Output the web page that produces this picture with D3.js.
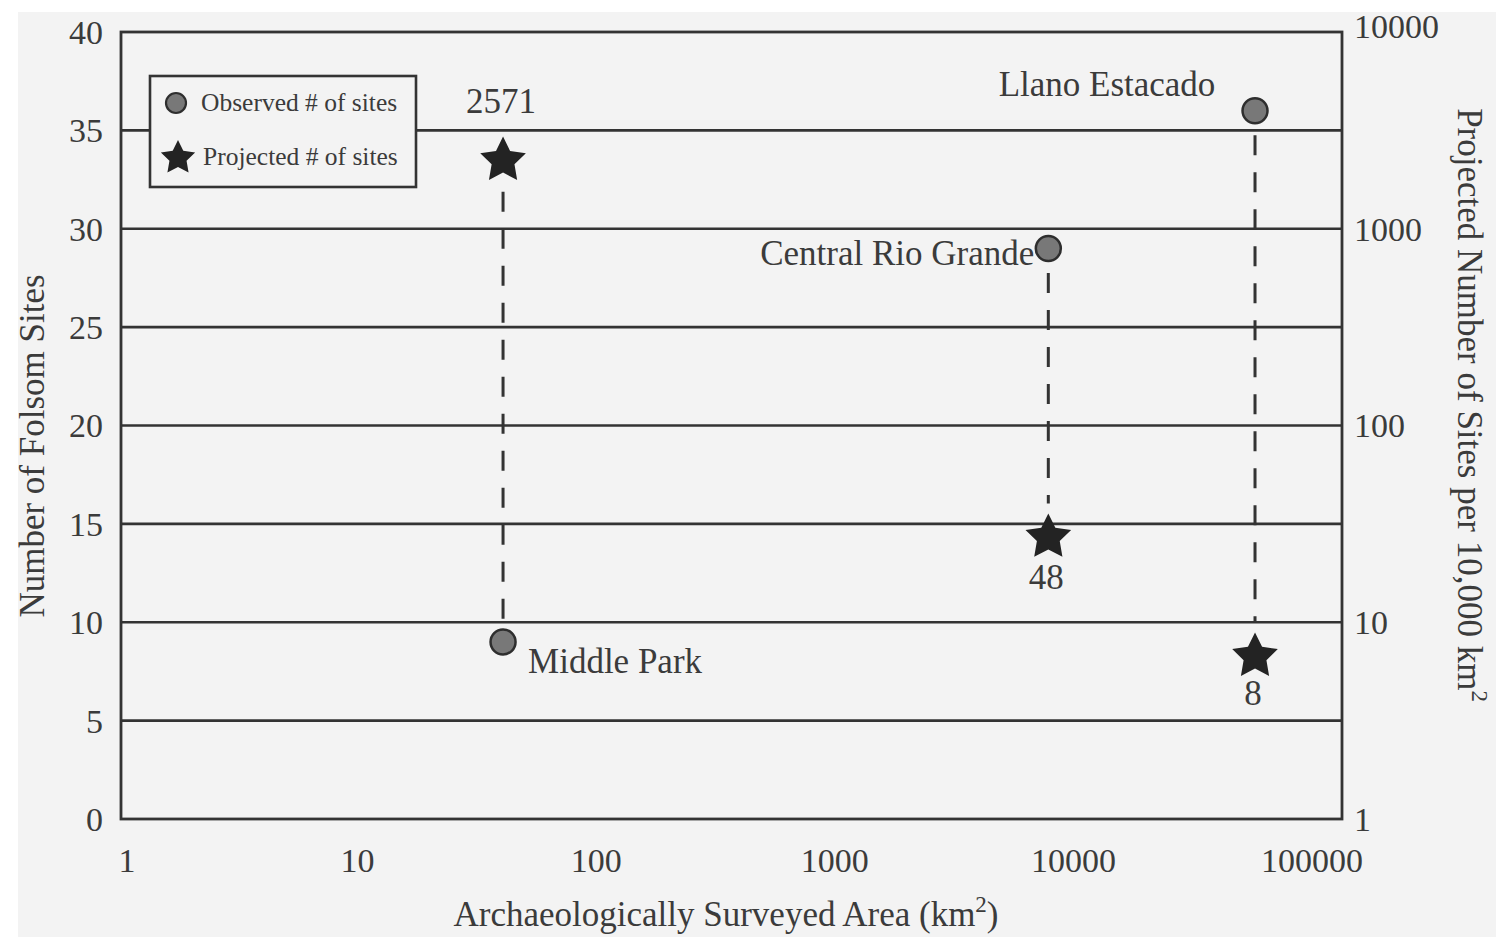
<!DOCTYPE html>
<html>
<head>
<meta charset="utf-8">
<script src="https://cdn.jsdelivr.net/npm/d3@7"></script>
<style>
    body { margin: 0; background: #fff; }
    text { font-family: "Liberation Serif", "Times New Roman", serif; fill: #3b3b3b; }
</style>
</head>
<body>
<div class="chart-container"></div>
<script>
// values
var sites = ["Middle Park", "Central Rio Grande", "Llano Estacado"];
var surveyedArea = [40.7, 7850, 57700];      // km2
var observedSites = [9, 29, 36];             // left axis
var projectedPlotted = [2220, 27, 6.7];      // right axis, where the stars sit
var projectedLabels = ["2571", "48", "8"];

var leftTicks = [0, 5, 10, 15, 20, 25, 30, 35, 40];
var rightTicks = [1, 10, 100, 1000, 10000];
var xTicks = [1, 10, 100, 1000, 10000, 100000];

draw();

function draw() {
    var drawWidth = 1502;
    var drawHeight = 949;

    var margin = {
        top: 32,
        right: 160,
        bottom: 130,
        left: 121
    };
    var width = drawWidth - margin.left - margin.right;   // 1221
    var height = drawHeight - margin.top - margin.bottom; // 787

    var ink = "#333";
    var paper = "#f3f3f3";

    var svg = d3.select('.chart-container').append("svg")
        .attr("width", drawWidth)
        .attr("height", drawHeight);

    // the scanned page
    svg.append("rect")
        .attr("x", 18).attr("y", 12)
        .attr("width", 1478).attr("height", 925)
        .attr("fill", paper);

    var y = d3.scaleLinear().domain([0, 40]).range([margin.top + height, margin.top]);
    var yR = d3.scaleLog().domain([1, 10000]).range([margin.top + height, margin.top]);
    // tick labels of the figure sit a little left of the frame corners
    var x = d3.scaleLog().domain([1, 100000]).range([119, 1312]);

    var x0 = margin.left, x1 = margin.left + width;

    // horizontal rules
    svg.append("g").selectAll("line")
        .data(leftTicks.filter(function (d) { return d > 0 && d < 40; }))
        .enter().append("line")
            .attr("x1", x0).attr("x2", x1)
            .attr("y1", function (d) { return y(d); })
            .attr("y2", function (d) { return y(d); })
            .attr("stroke", ink)
            .attr("stroke-width", 2.6);

    // frame
    svg.append("rect")
        .attr("x", x0).attr("y", margin.top)
        .attr("width", width).attr("height", height)
        .attr("fill", "none")
        .attr("stroke", ink)
        .attr("stroke-width", 2.8);

    // left ticks
    svg.append("g").selectAll("text")
        .data(leftTicks)
        .enter().append("text")
            .attr("x", 103)
            .attr("y", function (d) { return y(d); })
            .attr("dy", "0.35em")
            .attr("text-anchor", "end")
            .attr("font-size", 34)
            .text(function (d) { return d; });

    // right ticks
    svg.append("g").selectAll("text")
        .data(rightTicks)
        .enter().append("text")
            .attr("x", 1354)
            .attr("y", function (d) { return yR(d) - (d === 10000 ? 6 : 0); })
            .attr("dy", "0.35em")
            .attr("font-size", 34)
            .text(function (d) { return d; });

    // bottom ticks
    svg.append("g").selectAll("text")
        .data(xTicks)
        .enter().append("text")
            .attr("x", function (d) { return x(d) + (d === 1 ? 8 : 0); })
            .attr("y", 872)
            .attr("text-anchor", "middle")
            .attr("font-size", 34)
            .text(function (d) { return d; });

    // axis titles
    var xt = svg.append("text")
        .attr("x", 726).attr("y", 926)
        .attr("text-anchor", "middle")
        .attr("font-size", 35);
    xt.append("tspan").text("Archaeologically Surveyed Area (km");
    xt.append("tspan").attr("font-size", 23).attr("dy", -14).text("2");
    xt.append("tspan").attr("dy", 14).text(")");

    svg.append("text")
        .attr("transform", "translate(32,446) rotate(-90)")
        .attr("dy", "0.35em")
        .attr("text-anchor", "middle")
        .attr("font-size", 35)
        .text("Number of Folsom Sites");

    var rt = svg.append("text")
        .attr("transform", "translate(1470,405) rotate(90)")
        .attr("dy", "0.35em")
        .attr("text-anchor", "middle")
        .attr("font-size", 35);
    rt.append("tspan").text("Projected Number of Sites per 10,000 km");
    rt.append("tspan").attr("font-size", 23).attr("dy", -14).text("2");

    var rows = sites.map(function (s, i) {
        return {
            name: s,
            cx: x(surveyedArea[i]),
            obs: y(observedSites[i]),
            proj: yR(projectedPlotted[i]),
            label: projectedLabels[i]
        };
    });

    var starR = 24, dotR = 12.5;

    // dashed links between observed and projected
    svg.append("g").selectAll("line")
        .data(rows)
        .enter().append("line")
            .attr("x1", function (d) { return d.cx; })
            .attr("x2", function (d) { return d.cx; })
            .attr("y1", function (d) { return Math.min(d.obs, d.proj) + (d.obs < d.proj ? dotR : starR * 0.8) + 12; })
            .attr("y2", function (d) { return Math.max(d.obs, d.proj) - (d.obs > d.proj ? dotR : starR) - 10; })
            .attr("stroke", ink)
            .attr("stroke-width", 3)
            .attr("stroke-dasharray", "20,17");

    var star = function (R) {
        var pts = d3.range(10).map(function (i) {
            return [i * Math.PI / 5, i % 2 ? R * 0.5 : R];
        });
        return d3.lineRadial().curve(d3.curveLinearClosed)(pts);
    };

    svg.append("g").selectAll("path")
        .data(rows)
        .enter().append("path")
            .attr("transform", function (d) { return "translate(" + d.cx + "," + d.proj + ")"; })
            .attr("d", star(starR))
            .attr("fill", "#232323");

    svg.append("g").selectAll("circle")
        .data(rows)
        .enter().append("circle")
            .attr("cx", function (d) { return d.cx; })
            .attr("cy", function (d) { return d.obs; })
            .attr("r", dotR)
            .attr("fill", "#787878")
            .attr("stroke", "#2e2e2e")
            .attr("stroke-width", 2.5);

    // site names
    var nameOffset = [[25, 31, "start"], [-14, 17, "end"], [-148, -15, "middle"]];
    svg.append("g").selectAll("text")
        .data(rows)
        .enter().append("text")
            .attr("x", function (d, i) { return d.cx + nameOffset[i][0]; })
            .attr("y", function (d, i) { return d.obs + nameOffset[i][1]; })
            .attr("text-anchor", function (d, i) { return nameOffset[i][2]; })
            .attr("font-size", 35)
            .text(function (d) { return d.name; });

    // projected values
    var valOffset = [-48, 52, 49];
    svg.append("g").selectAll("text")
        .data(rows)
        .enter().append("text")
            .attr("x", function (d) { return d.cx - 2; })
            .attr("y", function (d, i) { return d.proj + valOffset[i]; })
            .attr("text-anchor", "middle")
            .attr("font-size", 35)
            .text(function (d) { return d.label; });

    // legend
    var lg = svg.append("g").attr("transform", "translate(150,76)");
    lg.append("rect")
        .attr("width", 266).attr("height", 111)
        .attr("fill", paper)
        .attr("stroke", ink)
        .attr("stroke-width", 2.6);
    lg.append("circle")
        .attr("cx", 26).attr("cy", 27).attr("r", 10)
        .attr("fill", "#787878")
        .attr("stroke", "#2e2e2e")
        .attr("stroke-width", 2.2);
    lg.append("path")
        .attr("transform", "translate(28,82)")
        .attr("d", star(18))
        .attr("fill", "#232323");
    lg.append("text").attr("x", 51).attr("y", 35).attr("font-size", 25.5).text("Observed # of sites");
    lg.append("text").attr("x", 53).attr("y", 89).attr("font-size", 25.5).text("Projected # of sites");
}
</script>
</body>
</html>
